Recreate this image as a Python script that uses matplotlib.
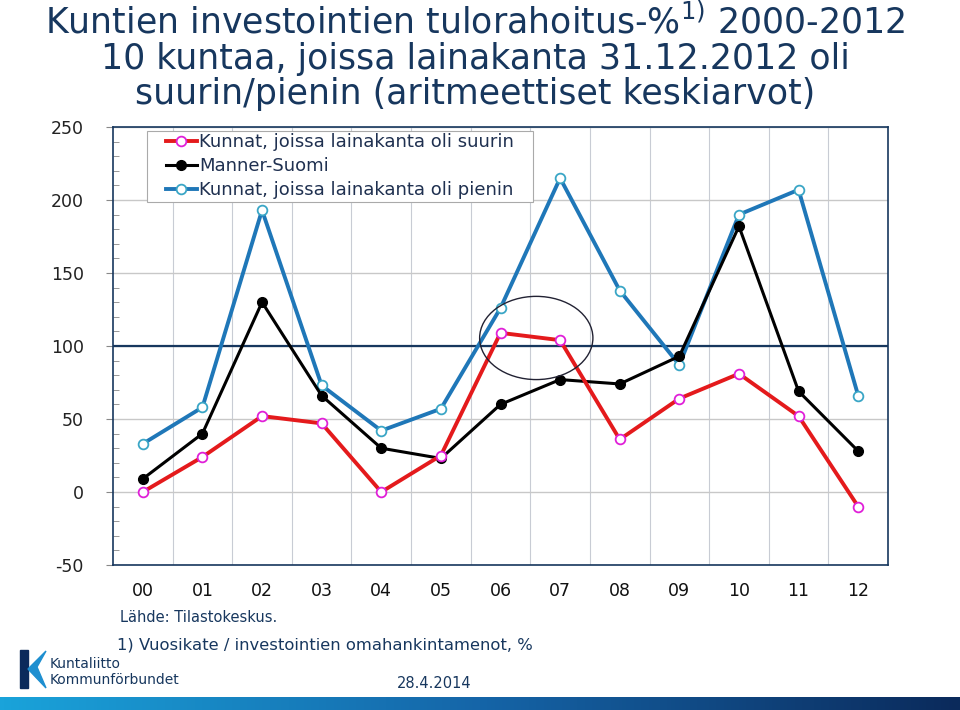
import matplotlib
matplotlib.use("Agg")
import matplotlib.pyplot as plt
import numpy as np
from matplotlib.patches import Ellipse, Polygon, Rectangle
from matplotlib.ticker import MultipleLocator, FixedLocator
from matplotlib.colors import LinearSegmentedColormap

years = ["00", "01", "02", "03", "04", "05", "06", "07", "08", "09", "10", "11", "12"]
suurin = [0, 24, 52, 47, 0, 25, 109, 104, 36, 64, 81, 52, -10]
manner = [9, 40, 130, 66, 30, 23, 60, 77, 74, 93, 182, 69, 28]
pienin = [33, 58, 193, 73, 42, 57, 126, 215, 138, 87, 190, 207, 66]
labels = ["Kunnat, joissa lainakanta oli suurin", "Manner-Suomi",
          "Kunnat, joissa lainakanta oli pienin"]
yticks = [-50, 0, 50, 100, 150, 200, 250]

navy = "#17375E"
plt.rcParams['font.family'] = ['DejaVu Sans']
plt.rcParams['axes.unicode_minus'] = False
plt.rcParams['mathtext.fontset'] = 'dejavusans'

W, H = 960, 710
fig = plt.figure(figsize=(9.6, 7.1), dpi=100)
ax = fig.add_axes([113/W, 1-565/H, 775/W, 438/H])
x = np.arange(len(years))

ax.plot(x, pienin, color="#1F77B8", lw=2.8, marker="o", ms=7, mfc="white",
        mec="#3AA6C6", mew=1.3, label=labels[2], zorder=3)
ax.plot(x, manner, color="black", lw=2.2, marker="o", ms=7, mfc="black",
        mec="black", label=labels[1], zorder=4)
ax.plot(x, suurin, color="#E41A1C", lw=2.8, marker="o", ms=7, mfc="white",
        mec="#E020D8", mew=1.3, label=labels[0], zorder=5)

ax.axhline(100, color=navy, lw=1.6, zorder=2)
ax.add_patch(Ellipse((6.6, 105.5), 1.9, 57, fill=False, ec="#222233", lw=1.0, zorder=6))

ax.set_xlim(-0.5, 12.5)
ax.set_ylim(-50, 250)
ax.set_xticks(x)
ax.set_xticklabels(years)
ax.xaxis.set_minor_locator(FixedLocator(np.arange(0.5, 12.5, 1)))
ax.set_yticks(yticks)
ax.yaxis.set_minor_locator(MultipleLocator(10))
ax.tick_params(axis='x', which='both', length=0, pad=12, labelsize=12.5, colors="#111111")
ax.tick_params(axis='y', which='major', length=5, direction='out', pad=16,
               labelsize=12.5, colors="#888888", labelcolor="#222222")
ax.tick_params(axis='y', which='minor', length=4, direction='in', colors="#888888")
ax.grid(axis='y', which='major', color="#C8C8C8", lw=1.0)
ax.grid(axis='x', which='minor', color="#C8CCD4", lw=0.8)
for s in ax.spines.values():
    s.set_color(navy)
    s.set_linewidth(1.2)

# legend frame drawn manually
ax.add_patch(Rectangle((147/W, 1-202/H), 386/W, 71/H, transform=fig.transFigure,
                       fc="white", ec="#AAAAAA", lw=0.8, zorder=8))
handles, labs = ax.get_legend_handles_labels()
order = [2, 1, 0]
leg = fig.legend([handles[i] for i in order], [labs[i] for i in order],
                 loc="upper left", bbox_to_anchor=(166/W, 1-133/H), fontsize=13,
                 frameon=False, handlelength=1.7, handletextpad=0.15,
                 borderpad=0.0, labelspacing=0.33, borderaxespad=0)
leg.set_zorder(10)
for t in leg.get_texts():
    t.set_color("#1F3050")

title_kw = dict(ha="center", va="baseline", fontsize=25, color=navy)
fig.text(475/W, 1-33/H, "Kuntien investointien tulorahoitus-%$^{1)}$ 2000-2012", **title_kw)
fig.text(475/W, 1-68.5/H, "10 kuntaa, joissa lainakanta 31.12.2012 oli", **title_kw)
fig.text(475/W, 1-104/H, "suurin/pienin (aritmeettiset keskiarvot)", **title_kw)

fig.text(120/W, 1-617/H, "Lähde: Tilastokeskus.", ha="left", va="center",
         fontsize=10.5, color=navy)
fig.text(117/W, 1-645/H, "1) Vuosikate / investointien omahankintamenot, %",
         ha="left", va="center", fontsize=11.8, color=navy)
fig.text(434/W, 1-683/H, "28.4.2014", ha="center", va="center",
         fontsize=10.5, color=navy)

# logo
lax = fig.add_axes([0, 0, 1, 1], zorder=-1)
lax.set_xlim(0, W); lax.set_ylim(H, 0); lax.axis("off")
lax.add_patch(Polygon([[20, 650], [28, 650], [28, 688], [20, 688]], color="#0B2A5B"))
lax.add_patch(Polygon([[28, 669], [46, 651], [37, 667], [46, 688]], color="#1E8FD0"))
lax.text(50, 664, "Kuntaliitto", fontsize=10, color=navy, va="center")
lax.text(50, 680, "Kommunförbundet", fontsize=10, color=navy, va="center")
grad = np.linspace(0, 1, 256).reshape(1, -1)
cm = LinearSegmentedColormap.from_list("g", ["#1AA3DA", "#1565A8", "#0B2A5B"])
lax.imshow(grad, cmap=cm, extent=[0, W, H, 697], aspect="auto")
lax.set_xlim(0, W); lax.set_ylim(H, 0)

fig.savefig("out.png", dpi=100)
